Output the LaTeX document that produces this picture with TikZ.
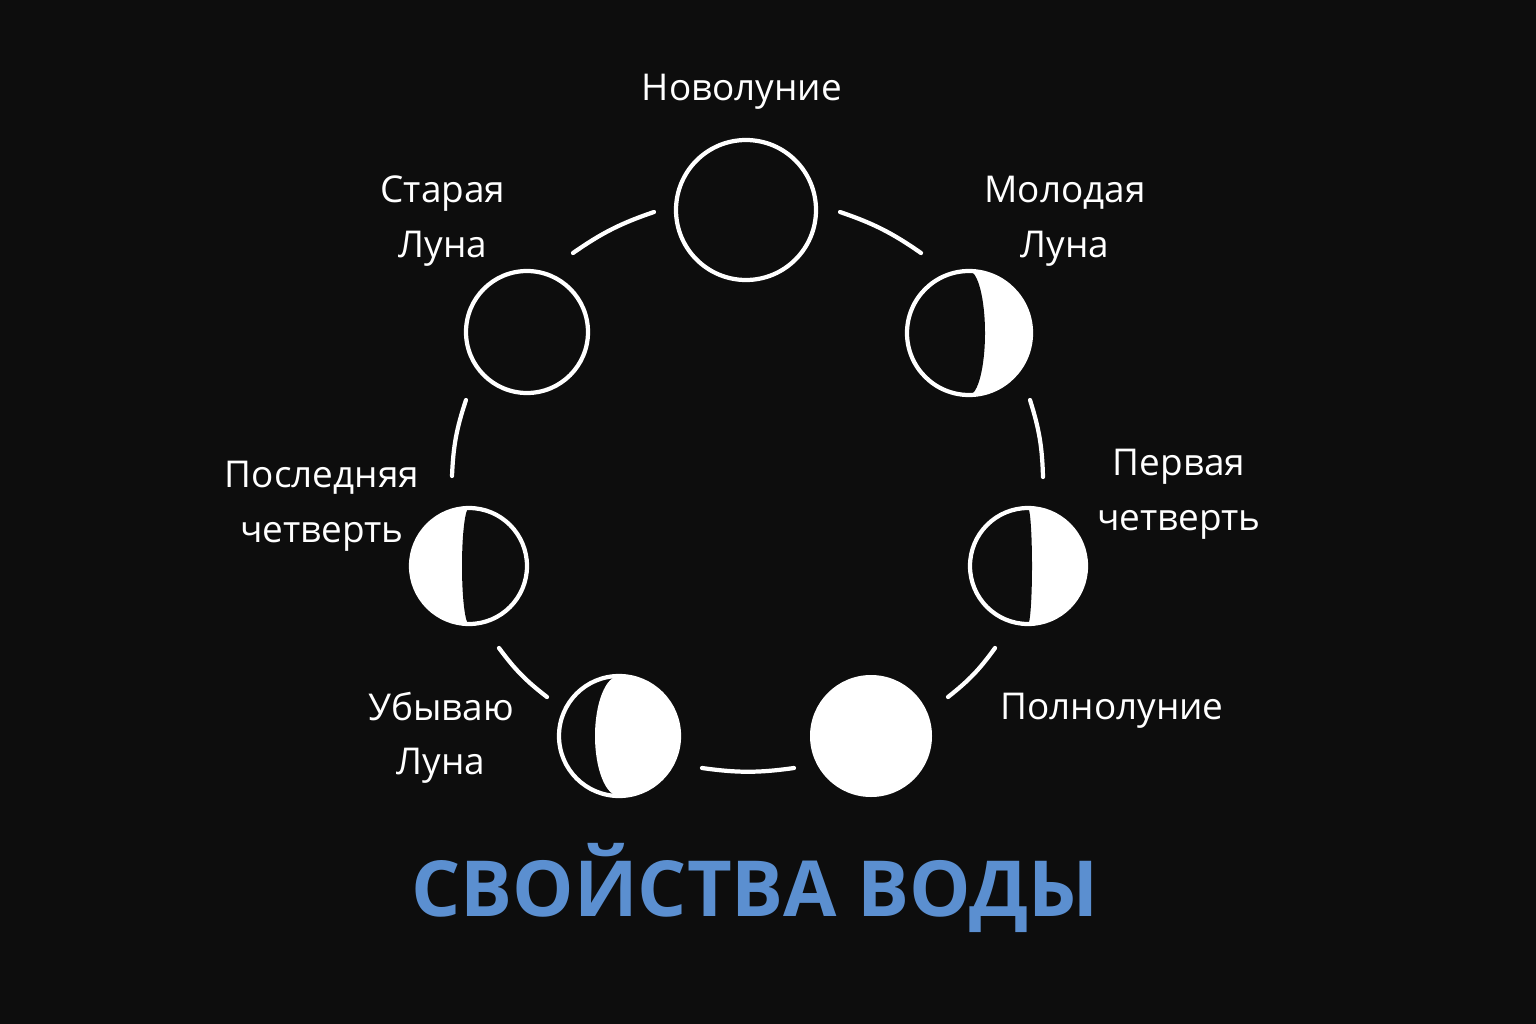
\documentclass[tikz,border=0pt]{standalone}
\usepackage{fontspec}
\setmainfont{Open Sans}
\definecolor{bg}{HTML}{0D0D0D}
\definecolor{titleblue}{HTML}{5B8FD0}
\begin{document}
\begin{tikzpicture}[%
        x = 0.01cm,
        y = -0.01cm,
        line width = 1.2pt,
        line cap = round,
        label/.style = {text = white, align = center, font = \fontsize{10.5}{15.5}\selectfont},
        moon/.style = {draw = white, line width = 1.2pt},
        track/.style = {draw = white, line width = 1.2pt}
    ]

        % Background and bounds.
        \fill[bg] (0,0) rectangle (1536,1024);
        \useasboundingbox (0,0) rectangle (1536,1024);

        % New moon and old moon: outlines only.
        \draw[moon] (746,210) circle (70);
        \draw[moon] (527,332) circle (61);

        % Young moon: white right crescent.
        \fill[white] (969,333) circle (62);
        \begin{scope}
            \clip (900,260) rectangle (969,400);
            \fill[bg] (969,333) circle (62);
        \end{scope}
        \fill[bg] (969,333) ellipse (16 and 62);
        \draw[moon] (969,333) circle (62);

        % First quarter.
        \fill[white] (1028,566) circle (58);
        \begin{scope}
            \clip (960,500) rectangle (1028,630);
            \fill[bg] (1028,566) circle (58);
        \end{scope}
        \fill[bg] (1028,566) ellipse (4 and 58);
        \draw[moon] (1028,566) circle (58);

        % Full moon.
        \fill[white] (871,736) circle (61);

        % Waning moon: dark left crescent.
        \fill[white] (619,736) circle (60);
        \begin{scope}
            \clip (550,670) rectangle (619,800);
            \fill[bg] (619,736) circle (60);
        \end{scope}
        \fill[white] (619,736) ellipse (24 and 60);
        \draw[moon] (619,736) circle (60);

        % Last quarter: white left half.
        \fill[white] (469,566) circle (58);
        \begin{scope}
            \clip (469,500) rectangle (540,630);
            \fill[bg] (469,566) circle (58);
        \end{scope}
        \fill[bg] (469,566) ellipse (7 and 58);
        \draw[moon] (469,566) circle (58);

        % Ends of the track pieces.
        \coordinate (t1a) at (573,253); \coordinate (t1b) at (654,212);
        \coordinate (t2a) at (840,212); \coordinate (t2b) at (921,253);
        \coordinate (t3a) at (1030,400); \coordinate (t3b) at (1043,477);
        \coordinate (t4a) at (995,648); \coordinate (t4b) at (948,697);
        \coordinate (t5a) at (794,768); \coordinate (t5b) at (702,768);
        \coordinate (t6a) at (547,697); \coordinate (t6b) at (499,648);
        \coordinate (t7a) at (452,476); \coordinate (t7b) at (466,400);

        % Track pieces between the phases.
        \draw[track] (t1a) to[bend left=8] (t1b);
        \draw[track] (t2a) to[bend left=8] (t2b);
        \draw[track] (t3a) to[bend left=8] (t3b);
        \draw[track] (t4a) to[bend left=8] (t4b);
        \draw[track] (t5a) to[bend left=8] (t5b);
        \draw[track] (t6a) to[bend left=8] (t6b);
        \draw[track] (t7a) to[bend left=8] (t7b);

        % Phase names.
        \node[label] (lnew) at (742,92) {Новолуние};
        \node[label] (lold) at (443,221) {Старая\\Луна};
        \node[label] (lyoung) at (1065,221) {Молодая\\Луна};
        \node[label] (llast) at (322,506) {Последняя\\четверть};
        \node[label] (lfirst) at (1179,494) {Первая\\четверть};
        \node[label] (lwane) at (441,738) {Убываю\\Луна};
        \node[label] (lfull) at (1112,711) {Полнолуние};

        % Title.
        \node[text = titleblue, font = \fontsize{22}{26}\selectfont\bfseries] (title) at (755,888) {СВОЙСТВА ВОДЫ};
    \end{tikzpicture}
\end{document}
